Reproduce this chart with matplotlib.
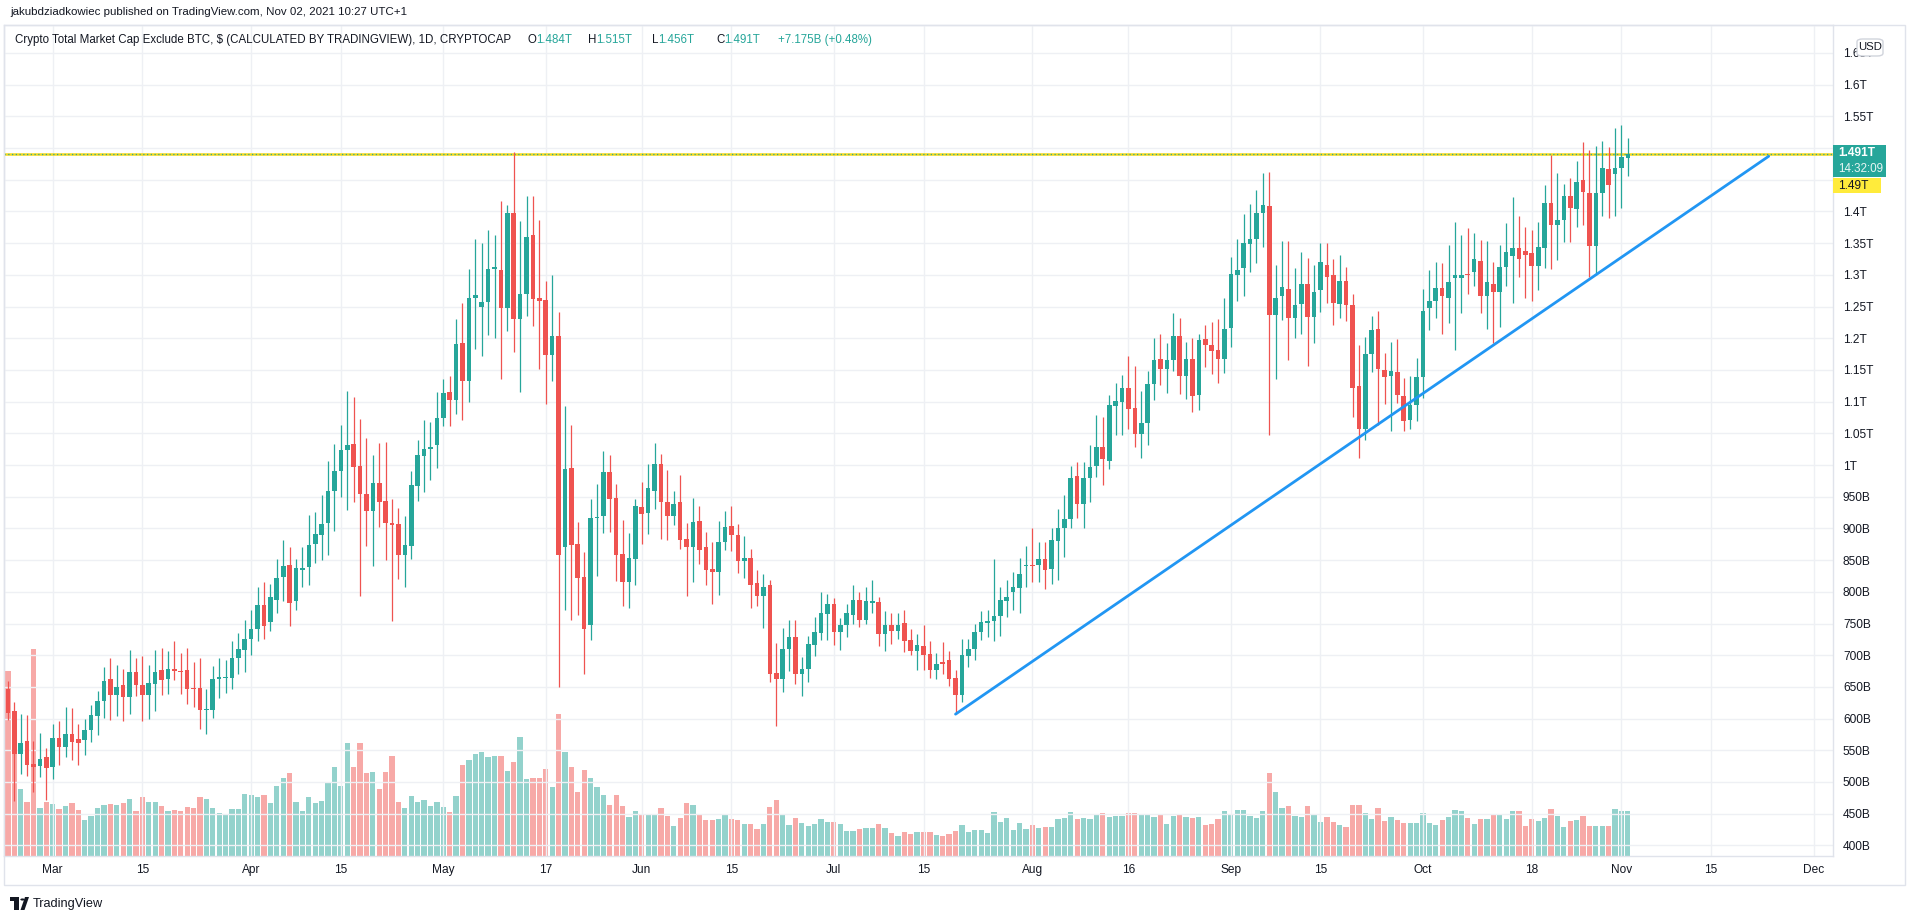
import numpy as np
import pandas as pd
import matplotlib
matplotlib.use("Agg")
import matplotlib.pyplot as plt
from matplotlib.patches import Rectangle, FancyBboxPatch, Circle, Polygon

plt.rcParams['font.family'] = ['Liberation Sans', 'DejaVu Sans']

# ---------------- data (values in billions USD) ----------------
dates = pd.date_range("2021-02-22", "2021-11-02", freq="D")

opens = (
    [647, 612, 544, 564, 528, 525, 540]
    + [524, 569, 555, 576, 568, 566, 582, 604, 628, 662, 638, 653, 634, 674, 653, 637, 655, 676, 663, 678,
       675, 676, 648, 648, 613, 613, 662, 664, 664, 696, 708]
    + [726, 742, 779, 752, 787, 823, 842, 785, 834, 839, 876, 889, 908, 959, 990, 1024, 1033, 999, 955, 928,
       972, 944, 909, 907, 858, 873, 967, 1014, 1025, 1031]
    + [1074, 1115, 1102, 1192, 1133, 1264, 1250, 1257, 1309, 1308, 1248, 1398, 1231, 1269, 1362, 1264, 1261, 1173, 1203, 870,
       996, 875, 823, 748, 916, 919, 989, 948, 860, 815, 852]
    + [934, 925, 959, 1002, 942, 919, 942, 884, 871, 911, 870, 836, 832, 878, 903, 890, 849, 853, 814, 793,
       810, 672, 663, 709, 729, 671, 678, 716, 735, 765]
    + [781, 737, 747, 764, 787, 755, 783, 784, 734, 748, 738, 750, 724, 707, 715, 702, 676, 690, 692, 664,
       637, 699, 710, 737, 751, 754, 762, 785, 799, 806, 841]
    + [843, 842, 851, 836, 880, 901, 915, 982, 939, 980, 998, 1028, 1007, 1093, 1100, 1122, 1090, 1049, 1066, 1128,
       1167, 1152, 1166, 1204, 1140, 1167, 1111, 1198, 1190, 1182, 1167]
    + [1216, 1300, 1311, 1349, 1357, 1397, 1409, 1237, 1267, 1278, 1232, 1254, 1285, 1233, 1276, 1316, 1300, 1254, 1290, 1253,
       1124, 1057, 1175, 1214, 1150, 1141, 1147, 1109, 1071, 1095]
    + [1139, 1247, 1258, 1279, 1264, 1295, 1295, 1302, 1304, 1321, 1266, 1286, 1273, 1313, 1329, 1342, 1338, 1334, 1314, 1343,
       1414, 1378, 1386, 1425, 1404, 1449, 1429, 1346, 1429, 1467, 1459]
    + [1468, 1484]
)
highs = (
    [660, 626, 607, 605, 565, 578, 553]
    + [591, 597, 619, 616, 592, 600, 622, 643, 682, 695, 685, 678, 708, 696, 698, 685, 708, 711, 706, 723,
       704, 711, 690, 696, 646, 683, 695, 692, 723, 735, 756]
    + [771, 807, 815, 812, 852, 881, 871, 851, 871, 921, 926, 953, 1006, 1033, 1063, 1117, 1108, 1073, 1042, 1015,
       1035, 1037, 946, 932, 920, 991, 1040, 1071, 1068, 1115]
    + [1136, 1141, 1230, 1256, 1309, 1357, 1350, 1371, 1362, 1417, 1410, 1493, 1385, 1425, 1425, 1387, 1291, 1299, 1241, 1093,
       1063, 910, 862, 947, 970, 1022, 1015, 970, 913, 892, 947]
    + [973, 1001, 1034, 1018, 992, 959, 985, 909, 948, 935, 895, 878, 911, 928, 935, 907, 888, 867, 835, 828,
       819, 719, 743, 756, 756, 697, 731, 761, 800, 797]
    + [791, 758, 781, 810, 800, 808, 818, 792, 769, 766, 766, 771, 742, 733, 748, 723, 703, 721, 706, 677,
       725, 725, 749, 769, 771, 852, 808, 819, 831, 854, 872]
    + [900, 879, 878, 901, 930, 953, 999, 1005, 1005, 1031, 1079, 1075, 1111, 1130, 1142, 1172, 1156, 1117, 1149, 1200,
       1206, 1193, 1240, 1232, 1194, 1200, 1207, 1221, 1225, 1230, 1263]
    + [1328, 1357, 1396, 1411, 1434, 1461, 1462, 1315, 1353, 1353, 1311, 1336, 1327, 1315, 1350, 1350, 1325, 1332, 1313, 1269,
       1190, 1202, 1235, 1243, 1177, 1194, 1198, 1137, 1141, 1169]
    + [1278, 1308, 1320, 1319, 1347, 1384, 1362, 1374, 1366, 1355, 1353, 1320, 1347, 1381, 1423, 1392, 1376, 1370, 1383, 1442,
       1489, 1461, 1444, 1453, 1480, 1510, 1497, 1503, 1511, 1502, 1531]
    + [1536, 1515]
)
lows = (
    [598, 470, 512, 510, 484, 508, 472]
    + [505, 527, 539, 535, 527, 542, 563, 574, 601, 598, 604, 596, 607, 635, 596, 600, 612, 637, 639, 661,
       639, 623, 619, 583, 576, 601, 632, 641, 646, 670, 673]
    + [700, 723, 725, 738, 766, 786, 746, 771, 807, 811, 845, 850, 858, 896, 950, 929, 941, 793, 873, 840,
       902, 850, 754, 820, 807, 851, 943, 958, 977, 995]
    + [1062, 1062, 1080, 1071, 1100, 1183, 1172, 1205, 1201, 1136, 1212, 1178, 1115, 1235, 1219, 1151, 1097, 1132, 650, 772,
       756, 764, 671, 724, 825, 892, 894, 817, 778, 774, 811]
    + [876, 891, 930, 884, 882, 906, 868, 794, 815, 844, 810, 781, 795, 866, 864, 830, 821, 775, 777, 743,
       658, 588, 642, 675, 655, 636, 657, 699, 724, 724]
    + [716, 708, 729, 749, 744, 749, 766, 715, 706, 718, 725, 705, 701, 677, 677, 664, 662, 671, 651, 607,
       626, 681, 692, 724, 729, 722, 731, 760, 771, 767, 807]
    + [815, 816, 805, 813, 819, 855, 901, 917, 901, 942, 981, 969, 993, 1047, 1048, 1056, 1029, 1011, 1031, 1102,
       1126, 1114, 1149, 1112, 1104, 1083, 1087, 1154, 1144, 1130, 1145]
    + [1186, 1259, 1267, 1304, 1318, 1344, 1047, 1135, 1228, 1165, 1200, 1207, 1156, 1193, 1241, 1255, 1221, 1232, 1227, 1075,
       1011, 1040, 1147, 1063, 1097, 1054, 1098, 1054, 1056, 1069]
    + [1105, 1213, 1232, 1207, 1224, 1182, 1240, 1270, 1283, 1239, 1215, 1192, 1217, 1283, 1255, 1296, 1264, 1259, 1276, 1311,
       1309, 1324, 1351, 1351, 1376, 1378, 1296, 1300, 1393, 1389, 1393]
    + [1405, 1456]
)
closes = (
    [609, 544, 562, 527, 524, 537, 522]
    + [569, 555, 576, 563, 562, 582, 605, 627, 660, 637, 650, 634, 674, 653, 637, 656, 674, 661, 678, 675,
       674, 646, 646, 613, 614, 662, 665, 666, 696, 710, 726]
    + [741, 779, 746, 792, 822, 840, 782, 837, 838, 874, 891, 907, 959, 990, 1024, 1031, 997, 954, 927, 972,
       941, 908, 905, 858, 874, 968, 1015, 1026, 1028, 1074]
    + [1114, 1102, 1191, 1133, 1264, 1268, 1257, 1309, 1313, 1248, 1398, 1231, 1269, 1360, 1262, 1259, 1174, 1203, 858, 994,
       874, 821, 742, 916, 918, 989, 947, 858, 815, 853, 935]
    + [923, 963, 1002, 941, 919, 938, 882, 871, 910, 866, 834, 832, 879, 902, 889, 849, 853, 811, 794, 808,
       671, 662, 710, 729, 671, 678, 717, 736, 766, 781]
    + [737, 747, 766, 787, 755, 785, 785, 734, 748, 738, 748, 723, 707, 716, 701, 676, 686, 686, 663, 637,
       700, 710, 737, 752, 754, 762, 787, 792, 808, 828, 842]
    + [840, 851, 835, 881, 901, 915, 980, 938, 980, 997, 1029, 1009, 1094, 1101, 1122, 1089, 1049, 1066, 1128, 1166,
       1152, 1166, 1204, 1140, 1167, 1109, 1197, 1190, 1180, 1167, 1214]
    + [1301, 1307, 1350, 1356, 1397, 1410, 1237, 1263, 1280, 1232, 1253, 1285, 1233, 1273, 1320, 1297, 1255, 1290, 1253, 1121,
       1057, 1175, 1213, 1151, 1139, 1148, 1111, 1070, 1095, 1139]
    + [1243, 1258, 1279, 1266, 1289, 1300, 1300, 1300, 1325, 1266, 1289, 1273, 1313, 1336, 1342, 1325, 1332, 1314, 1344, 1414,
       1378, 1386, 1425, 1405, 1446, 1431, 1346, 1429, 1468, 1442, 1468]
    + [1486, 1491]
)
# volume (relative units, hidden scale)
volumes = (
    [555, 330, 200, 163, 620, 145, 163]
    + [157, 140, 150, 160, 138, 107, 120, 145, 153, 157, 153, 160, 170, 135, 178, 163, 163, 150, 135, 138,
       135, 147, 144, 176, 172, 144, 128, 122, 141, 141, 185]
    + [182, 176, 182, 160, 210, 235, 250, 161, 135, 176, 158, 165, 220, 266, 211, 340, 266, 340, 248, 252,
       200, 252, 300, 161, 144, 179, 161, 168, 149, 161]
    + [146, 133, 179, 272, 289, 307, 312, 296, 300, 300, 255, 282, 358, 230, 234, 234, 261, 206, 427, 312,
       267, 193, 258, 235, 207, 182, 153, 182, 150, 117, 135]
    + [125, 122, 125, 143, 119, 90, 113, 160, 153, 122, 107, 107, 110, 122, 110, 107, 97, 97, 82, 97,
       147, 167, 122, 93, 113, 100, 90, 97, 110, 103]
    + [103, 97, 75, 75, 82, 85, 85, 95, 85, 70, 60, 72, 67, 72, 72, 72, 63, 60, 67, 75,
       92, 72, 78, 78, 70, 132, 102, 113, 78, 98, 82]
    + [92, 85, 88, 88, 110, 113, 132, 110, 113, 110, 127, 128, 117, 120, 120, 128, 130, 123, 123, 118,
       123, 96, 121, 127, 118, 114, 118, 94, 96, 110, 134]
    + [127, 137, 137, 121, 114, 134, 248, 192, 145, 150, 121, 117, 151, 127, 103, 118, 103, 94, 87, 154,
       154, 130, 111, 145, 105, 118, 107, 99, 99, 99]
    + [130, 99, 92, 108, 118, 137, 135, 114, 96, 111, 111, 122, 122, 111, 135, 135, 89, 111, 104, 115,
       140, 121, 86, 104, 107, 121, 89, 89, 89, 89, 140]
    + [135, 135]
)

hline_value = 1490          # drawn horizontal resistance
last_price = 1491
trend_dates = ["2021-07-20", "2021-11-24"]
trend_values = [607, 1487]

tick_dates = ["2021-03-01", "2021-03-15", "2021-04-01", "2021-04-15", "2021-05-01", "2021-05-17",
              "2021-06-01", "2021-06-15", "2021-07-01", "2021-07-15", "2021-08-01", "2021-08-16",
              "2021-09-01", "2021-09-15", "2021-10-01", "2021-10-18", "2021-11-01", "2021-11-15",
              "2021-12-01"]
tick_labels = ["Mar", "15", "Apr", "15", "May", "17", "Jun", "15", "Jul", "15", "Aug", "16",
               "Sep", "15", "Oct", "18", "Nov", "15", "Dec"]

for arr in (opens, highs, lows, closes, volumes):
    assert len(arr) == len(dates), (len(arr), len(dates))

# ---------------- layout (pixels) ----------------
W, H = 1913, 918
L, R, T, B = 4, 1833, 25, 856
PX_DAY = 6.403
X_MAR1 = 52.7
Y_1T = 465.0
PX_PER_B = 31.7 / 50

GREEN = '#26a69a'
RED = '#ef5350'
VOL_UP = '#93d2cc'
VOL_DN = '#f7a9a7'
TXT = '#131722'
GRID = '#eef0f4'
BORDER = '#e0e3eb'

day0 = pd.Timestamp("2021-03-01")
x = np.asarray((dates - day0).days, dtype=float)
o = np.array(opens, float)
h = np.array(highs, float)
lo = np.array(lows, float)
c = np.array(closes, float)
v = np.array(volumes, float)
up = c >= o

fig = plt.figure(figsize=(W / 100, H / 100), dpi=100)
rect = [L / W, 1 - B / H, (R - L) / W, (B - T) / H]
ax_vol = fig.add_axes(rect)
ax = fig.add_axes(rect, sharex=ax_vol)
ax.set_zorder(2)
ax_vol.set_zorder(1)
ax.patch.set_visible(False)

# volume
ax_vol.bar(x, v, width=0.82, color=np.where(up, VOL_UP, VOL_DN), linewidth=0)
ax_vol.set_ylim(0, (B - T) * 3)
ax_vol.axis('off')

# candles
col = np.where(up, GREEN, RED)
ax.vlines(x, lo, h, colors=col, linewidth=0.9, zorder=3)
body = np.maximum(np.abs(c - o), 1.6)
ax.bar(x, body, bottom=np.minimum(o, c), width=0.72, color=col, linewidth=0, zorder=4)

# horizontal level and last price line
ax.axhline(hline_value, color='#f2d81c', linewidth=1.8, zorder=2)
ax.axhline(last_price, color=GREEN, linewidth=0.9, linestyle=(0, (1, 2)), zorder=2)

# trend line
tx = [(pd.Timestamp(d) - day0).days for d in trend_dates]
ax.plot(tx, trend_values, color='#2196f3', linewidth=2.0, solid_capstyle='round', zorder=5)

ax.set_xlim((L - X_MAR1) / PX_DAY, (R - X_MAR1) / PX_DAY)
ax.set_ylim(1000 - (B - Y_1T) / PX_PER_B, 1000 + (Y_1T - T) / PX_PER_B)

# axes / grid
xt = [(pd.Timestamp(d) - day0).days for d in tick_dates]
ax.set_xticks(xt)
ax.set_xticklabels(tick_labels)
yt = np.arange(400, 1651, 50)
ax.set_yticks(yt)
# 1.45T and 1.5T sit behind the price labels, so they are not printed
ylabels = ["" if t in (1450, 1500) else (f"{t / 1000:g}T" if t >= 1000 else f"{t:g}B") for t in yt]
ax.set_yticklabels(ylabels)
ax.yaxis.tick_right()
ax.tick_params(axis='y', length=0, pad=7.2, labelsize=8.6, labelcolor=TXT)
ax.tick_params(axis='x', length=0, pad=6.0, labelsize=8.6, labelcolor=TXT)
ax.grid(True, color=GRID, linewidth=1.0, zorder=0)
ax.set_axisbelow(True)
for s in ax.spines.values():
    s.set_color(BORDER)
    s.set_linewidth(1.0)


def fig_rect(x0, y0, x1, y1, **kw):
    p = Rectangle((x0 / W, 1 - y1 / H), (x1 - x0) / W, (y1 - y0) / H,
                  transform=fig.transFigure, **kw)
    fig.add_artist(p)
    return p


# outer frame
fig_rect(L, T, 1905, 885, fill=False, edgecolor=BORDER, linewidth=1.0, zorder=1)

# price labels on the axis
fig_rect(1833, 145, 1886, 177, facecolor=GREEN, edgecolor='none', zorder=10)
fig.text(1838 / W, 1 - 153.5 / H, "1.491T", color='white', fontsize=8.6, fontweight='bold',
         va='center', ha='left', zorder=11)
fig.text(1838 / W, 1 - 168.5 / H, "14:32:09", color='#e6f5f3', fontsize=8.4,
         va='center', ha='left', zorder=11)
fig_rect(1833, 178, 1881, 193, facecolor='#ffeb3b', edgecolor='none', zorder=10)
fig.text(1838 / W, 1 - 186 / H, "1.49T", color=TXT, fontsize=8.6,
         va='center', ha='left', zorder=11)

usd = FancyBboxPatch((1857 / W, 1 - 56 / H), 26 / W, 17 / H,
                     boxstyle="round,pad=0,rounding_size=0.003", transform=fig.transFigure,
                     facecolor='white', edgecolor='#d1d4dc', linewidth=1.0, zorder=10)
fig.add_artist(usd)
fig.text(1870 / W, 1 - 47.5 / H, "USD", color=TXT, fontsize=8.2, ha='center', va='center', zorder=11)

# header
fig.text(10 / W, 1 - 12 / H, "jakubdziadkowiec published on TradingView.com, Nov 02, 2021 10:27 UTC+1",
         color=TXT, fontsize=8.25, ha='left', va='center')

# legend line: title, then O/H/L/C values and change
fig.text(15 / W, 1 - 40 / H,
         "Crypto Total Market Cap Exclude BTC, $ (CALCULATED BY TRADINGVIEW), 1D, CRYPTOCAP",
         color=TXT, fontsize=8.3, ha='left', va='center')
ohlc_keys = ["O", "H", "L", "C"]
ohlc_vals = ["1.484T", "1.515T", "1.456T", "1.491T"]
ohlc_px = [527, 588, 652, 716]
for k, val, px in zip(ohlc_keys, ohlc_vals, ohlc_px):
    t = fig.text(px / W, 1 - 40 / H, k, color=TXT, fontsize=8.3, ha='left', va='center')
    ax.annotate(val, xy=(1, 0), xycoords=t, va='bottom', ha='left', color=GREEN,
                fontsize=8.3, annotation_clip=False)
fig.text(778 / W, 1 - 40 / H, "+7.175B (+0.48%)", color=GREEN, fontsize=8.3, ha='left', va='center')

# footer logo
fig_rect(10, 897, 19, 901, facecolor=TXT, edgecolor='none')
fig_rect(14, 897, 18.5, 910, facecolor=TXT, edgecolor='none')
fig.add_artist(Circle((22.5 / W, 1 - 899.5 / H), 2.2 / W, transform=fig.transFigure,
                      facecolor=TXT, edgecolor='none'))
fig.add_artist(Polygon([(20.5 / W, 1 - 910 / H), (25 / W, 1 - 897 / H), (29 / W, 1 - 897 / H),
                        (24.5 / W, 1 - 910 / H)], closed=True, transform=fig.transFigure,
                       facecolor=TXT, edgecolor='none'))
fig.text(33 / W, 1 - 903.5 / H, "TradingView", color=TXT, fontsize=9.2, ha='left', va='center')

fig.savefig("out.png", dpi=100, facecolor='white')
